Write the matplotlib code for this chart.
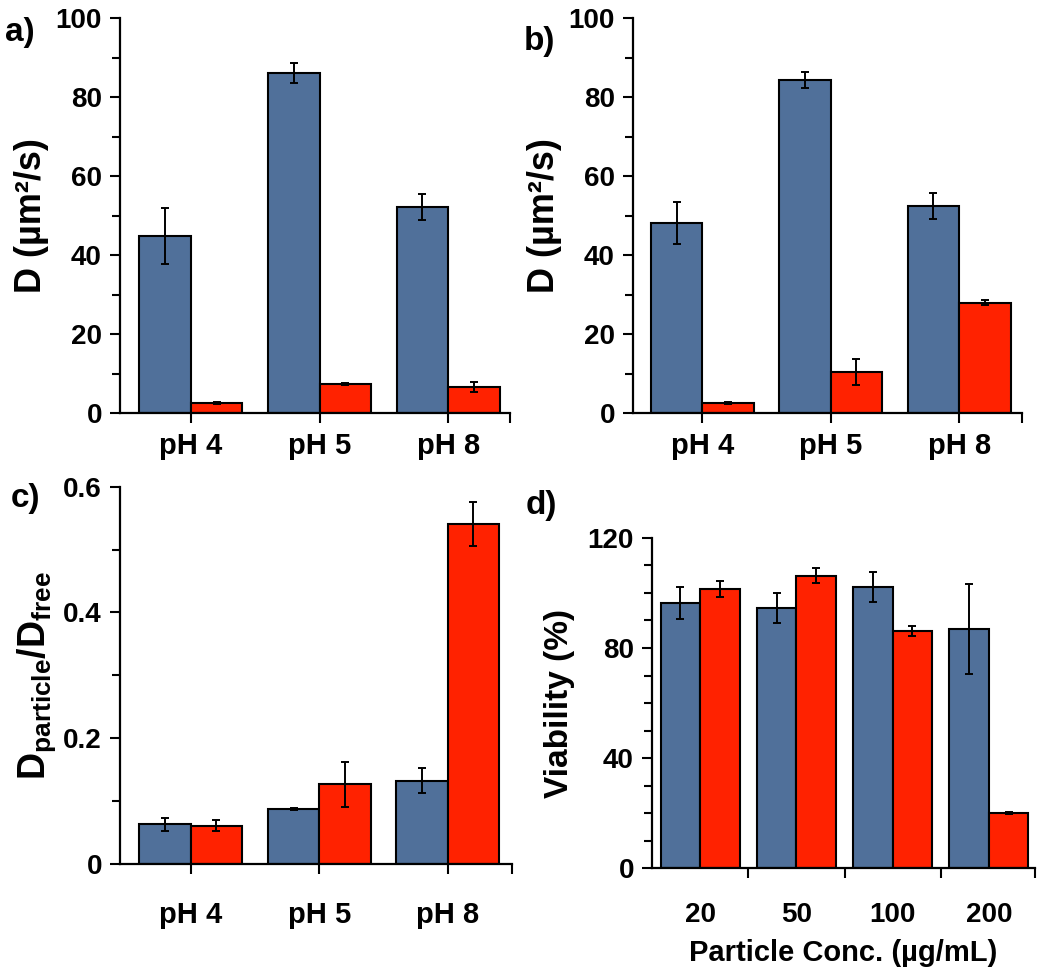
import matplotlib.pyplot as plt
import numpy as np
from matplotlib.ticker import MultipleLocator, FixedLocator

plt.rcParams['font.family'] = ['Liberation Sans', 'DejaVu Sans']
plt.rcParams['font.weight'] = 'bold'
plt.rcParams['axes.labelweight'] = 'bold'
plt.rcParams['mathtext.fontset'] = 'custom'
plt.rcParams['mathtext.rm'] = 'Liberation Sans:bold'
plt.rcParams['mathtext.bf'] = 'Liberation Sans:bold'
plt.rcParams['mathtext.it'] = 'Liberation Sans:bold'

# data
ph_labels = ['pH 4', 'pH 5', 'pH 8']
conc_labels = ['20', '50', '100', '200']

a_blue = [44.8, 86.1, 52.1]
a_blue_err = [7.0, 2.6, 3.3]
a_red = [2.5, 7.3, 6.6]
a_red_err = [0.2, 0.3, 1.2]

b_blue = [48.2, 84.3, 52.4]
b_blue_err = [5.3, 2.1, 3.3]
b_red = [2.6, 10.3, 27.9]
b_red_err = [0.3, 3.3, 0.6]

c_blue = [0.063, 0.0875, 0.1325]
c_blue_err = [0.011, 0.002, 0.020]
c_red = [0.061, 0.127, 0.540]
c_red_err = [0.009, 0.036, 0.035]

d_blue = [96.2, 94.6, 102.2, 86.9]
d_blue_err = [5.8, 5.4, 5.4, 16.2]
d_red = [101.4, 106.2, 86.3, 20.0]
d_red_err = [2.9, 2.7, 1.8, 0.3]

BLUE = '#50709A'
RED = '#FF2200'

fig = plt.figure(figsize=(10.5, 9.75), dpi=100)

def panel(rect, labels, blue, blue_err, red, red_err, width, xlim, ylim,
          major, minor, xpad, ticks_between=False, tick_fmt=None):
    ax = fig.add_axes(rect)
    x = np.arange(len(labels))
    ekw = dict(ecolor='black', elinewidth=1.4, capsize=3, capthick=1.4)
    ax.bar(x - width / 2, blue, width, yerr=blue_err, color=BLUE,
           edgecolor='black', linewidth=1.5, error_kw=ekw, zorder=2)
    ax.bar(x + width / 2, red, width, yerr=red_err, color=RED,
           edgecolor='black', linewidth=1.5, error_kw=ekw, zorder=2)
    ax.set_xlim(xlim)
    ax.set_ylim(ylim)
    ax.spines['top'].set_visible(False)
    ax.spines['right'].set_visible(False)
    ax.spines['left'].set_linewidth(1.6)
    ax.spines['bottom'].set_linewidth(1.6)
    ax.yaxis.set_major_locator(MultipleLocator(major))
    ax.yaxis.set_minor_locator(MultipleLocator(minor))
    if tick_fmt is not None:
        ax.set_yticklabels([tick_fmt(v) for v in ax.get_yticks()])
    ax.tick_params(axis='y', which='major', length=7, width=1.5, labelsize=20, pad=6)
    ax.tick_params(axis='y', which='minor', length=6, width=1.5)
    ax.set_xticks(x)
    ax.set_xticklabels(labels)
    if ticks_between:
        ax.tick_params(axis='x', which='major', length=0, labelsize=20, pad=xpad)
        ax.xaxis.set_minor_locator(FixedLocator(list(x[:-1] + 0.5) + [xlim[1]]))
    else:
        ax.tick_params(axis='x', which='major', length=7, width=1.5, labelsize=21, pad=xpad)
        ax.xaxis.set_minor_locator(FixedLocator([xlim[1]]))
    ax.tick_params(axis='x', which='minor', length=7, width=1.5)
    return ax

ax_a = panel([0.1143, 0.5764, 0.3714, 0.4051], ph_labels, a_blue, a_blue_err,
             a_red, a_red_err, 0.40, (-0.55, 2.48), (0, 100), 20, 10, 7)
ax_a.set_ylabel('D (µm²/s)', fontsize=26, labelpad=5)

ax_b = panel([0.6029, 0.5764, 0.3705, 0.4051], ph_labels, b_blue, b_blue_err,
             b_red, b_red_err, 0.40, (-0.54, 2.49), (0, 100), 20, 10, 7)
ax_b.set_ylabel('D (µm²/s)', fontsize=26, labelpad=5)

ax_c = panel([0.1143, 0.1138, 0.3733, 0.3870], ph_labels, c_blue, c_blue_err,
             c_red, c_red_err, 0.40, (-0.55, 2.5), (0, 0.6), 0.2, 0.1, 19.5,
             tick_fmt=lambda v: '0' if v == 0 else f'{v:.1f}')
ax_c.set_ylabel(r'$\mathbf{D_{particle}/D_{free}}$', fontsize=27, labelpad=4)

ax_d = panel([0.621, 0.1094, 0.3648, 0.3390], conc_labels, d_blue, d_blue_err,
             d_red, d_red_err, 0.41, (-0.5, 3.48), (0, 120), 40, 10, 24,
             ticks_between=True)
ax_d.set_ylabel('Viability (%)', fontsize=24, labelpad=9)
ax_d.set_xlabel('Particle Conc. (µg/mL)', fontsize=21, labelpad=8)

for lbl, (fx, fy) in zip(['a)', 'b)', 'c)', 'd)'],
                         [(0.019, 0.967), (0.514, 0.957), (0.024, 0.489), (0.516, 0.482)]):
    fig.text(fx, fy, lbl, fontsize=24, fontweight='bold', ha='center', va='center')

plt.savefig('out.png', dpi=100)
